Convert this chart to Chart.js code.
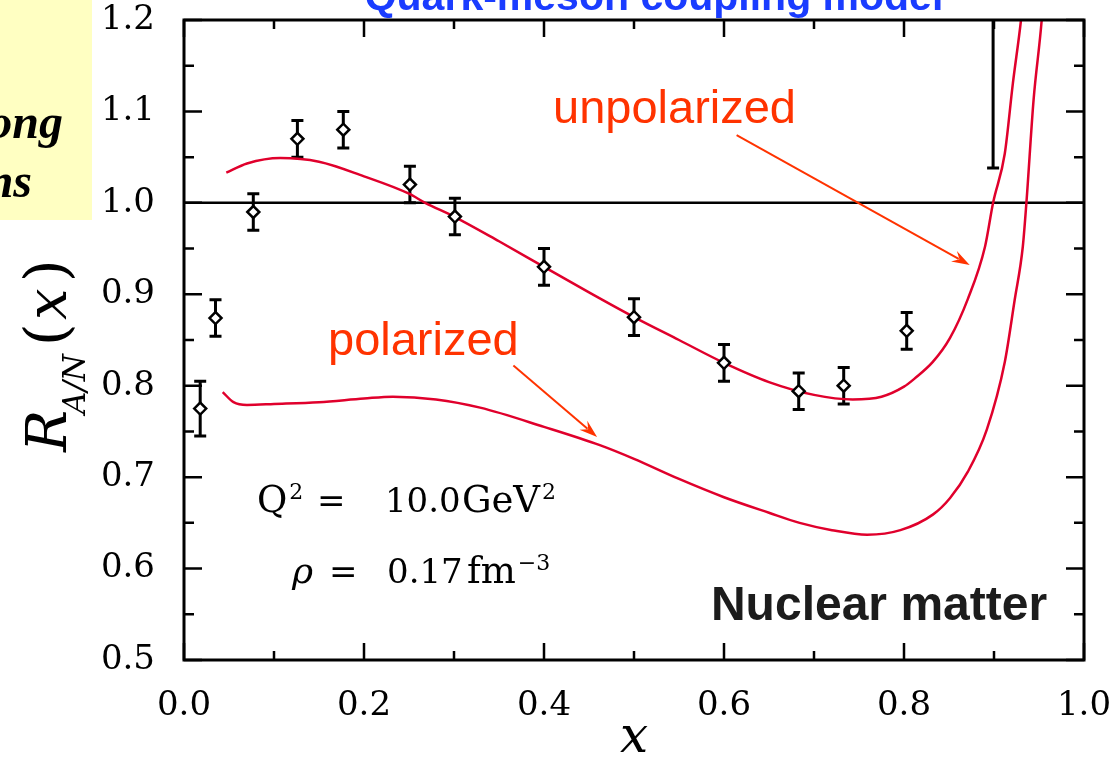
<!DOCTYPE html>
<html>
<head>
<meta charset="utf-8">
<script src="https://cdn.jsdelivr.net/npm/chart.js@4.4.1/dist/chart.umd.min.js"></script>
<style>
html, body { margin: 0; padding: 0; background: #fff; }
#wrap { width: 1111px; height: 761px; }
</style>
</head>
<body>
<div id="wrap"><canvas id="ratioChart" width="1111" height="761"></canvas></div>
<script>
// measured ratio with error bars
const dataX = [0.018, 0.035, 0.077, 0.126, 0.177, 0.251, 0.301, 0.4, 0.5, 0.6, 0.683, 0.733, 0.803, 0.899];
const dataY = [0.775, 0.874, 0.99, 1.07, 1.08, 1.02, 0.985, 0.93, 0.875, 0.825, 0.794, 0.80, 0.86, 1.30];
const dataErr = [0.03, 0.02, 0.02, 0.02, 0.02, 0.02, 0.02, 0.02, 0.02, 0.02, 0.02, 0.02, 0.02, 0.262];

// model curves
const unpolX = [0.047, 0.07, 0.107, 0.15, 0.2, 0.25, 0.268, 0.3, 0.35, 0.4, 0.45, 0.5, 0.55, 0.6, 0.65, 0.7, 0.743, 0.775, 0.8, 0.812, 0.832, 0.851, 0.871, 0.89, 0.899, 0.912, 0.921, 0.93, 0.94];
const unpolY = [1.033, 1.043, 1.049, 1.045, 1.029, 1.010, 1.0, 0.985, 0.958, 0.93, 0.902, 0.875, 0.85, 0.825, 0.804, 0.79, 0.785, 0.788, 0.799, 0.808, 0.826, 0.852, 0.895, 0.952, 1.0, 1.054, 1.131, 1.2, 1.3];
const polX = [0.043, 0.055, 0.07, 0.1, 0.15, 0.2, 0.232, 0.28, 0.329, 0.4, 0.462, 0.5, 0.55, 0.6, 0.65, 0.684, 0.72, 0.759, 0.796, 0.832, 0.851, 0.871, 0.892, 0.912, 0.923, 0.932, 0.936, 0.944, 0.953, 0.96];
const polY = [0.793, 0.782, 0.779, 0.780, 0.782, 0.786, 0.788, 0.785, 0.776, 0.755, 0.735, 0.72, 0.698, 0.678, 0.661, 0.65, 0.642, 0.637, 0.642, 0.659, 0.677, 0.706, 0.752, 0.826, 0.894, 0.952, 1.0, 1.113, 1.2, 1.3];

// R = 1 reference line
const refX = [0, 1];
const refY = [1, 1];

const xTicks = [0, 0.2, 0.4, 0.6, 0.8, 1.0];
const xTickLabels = ['0.0', '0.2', '0.4', '0.6', '0.8', '1.0'];
const yTicks = [0.5, 0.6, 0.7, 0.8, 0.9, 1.0, 1.1, 1.2];
const yTickLabels = ['0.5', '0.6', '0.7', '0.8', '0.9', '1.0', '1.1', '1.2'];

const toXY = (xs, ys) => xs.map((x, i) => ({ x: x, y: ys[i] }));

const RED = '#e0002c';
const ORANGE = '#ff3300';
const SERIF = '"DejaVu Serif", serif';

// pieces of text: fixed offset (at) or right after the previous piece (gap)
function drawParts(ctx, x, y, parts) {
	let end = x;
	parts.forEach(p => {
		ctx.font = p.font;
		const px = p.at !== undefined ? x + p.at : end + (p.gap || 0);
		ctx.fillText(p.t, px, y - (p.up || 0));
		end = px + ctx.measureText(p.t).width;
	});
}

function arrow(ctx, x1, y1, x2, y2) {
	const a = Math.atan2(y2 - y1, x2 - x1);
	const c = Math.cos(a), s = Math.sin(a);
	const len = 18, half = 6;
	ctx.beginPath();
	ctx.moveTo(x1, y1);
	ctx.lineTo(x2 - len * 0.7 * c, y2 - len * 0.7 * s);
	ctx.stroke();
	ctx.beginPath();
	ctx.moveTo(x2, y2);
	ctx.lineTo(x2 - len * c + half * s, y2 - len * s - half * c);
	ctx.lineTo(x2 - len * 0.65 * c, y2 - len * 0.65 * s);
	ctx.lineTo(x2 - len * c - half * s, y2 - len * s + half * c);
	ctx.closePath();
	ctx.fill();
}

const errorBars = {
	id: 'errorBars',
	beforeDatasetsDraw(chart) {
		const { ctx, chartArea: a, scales: { x, y } } = chart;
		ctx.save();
		ctx.beginPath();
		ctx.rect(a.left, a.top, a.right - a.left, a.bottom - a.top);
		ctx.clip();
		ctx.strokeStyle = '#000';
		ctx.lineWidth = 3;
		for (let i = 0; i < dataX.length; i++) {
			const px = x.getPixelForValue(dataX[i]);
			const lo = y.getPixelForValue(dataY[i] - dataErr[i]);
			const hi = y.getPixelForValue(dataY[i] + dataErr[i]);
			ctx.beginPath();
			ctx.moveTo(px, lo); ctx.lineTo(px, hi);
			ctx.moveTo(px - 6, lo); ctx.lineTo(px + 6, lo);
			ctx.moveTo(px - 6, hi); ctx.lineTo(px + 6, hi);
			ctx.stroke();
		}
		ctx.restore();
	}
};

const frame = {
	id: 'frame',
	afterDatasetsDraw(chart) {
		const { ctx, chartArea: a, scales: { x, y } } = chart;
		ctx.save();
		ctx.strokeStyle = '#000';
		ctx.lineWidth = 2.5;
		ctx.beginPath();
		// ticks pointing inward on all four sides
		for (let k = 0; k <= 10; k++) {
			const px = x.getPixelForValue(k / 10);
			const len = k % 2 === 0 ? 17 : 9;
			ctx.moveTo(px, a.bottom); ctx.lineTo(px, a.bottom - len);
			ctx.moveTo(px, a.top); ctx.lineTo(px, a.top + len);
		}
		for (let k = 0; k <= 14; k++) {
			const py = y.getPixelForValue(0.5 + k * 0.05);
			const len = k % 2 === 0 ? 18 : 10;
			ctx.moveTo(a.left, py); ctx.lineTo(a.left + len, py);
			ctx.moveTo(a.right, py); ctx.lineTo(a.right - len, py);
		}
		ctx.stroke();
		ctx.lineWidth = 3;
		ctx.strokeRect(a.left, a.top, a.right - a.left, a.bottom - a.top);
		ctx.restore();
	}
};

const labels = {
	id: 'labels',
	afterDraw(chart) {
		const { ctx, chartArea, scales: { x, y } } = chart;
		const X = v => x.getPixelForValue(v);
		const Y = v => y.getPixelForValue(v);
		ctx.save();

		// yellow side box, cut at the edge
		ctx.fillStyle = '#ffffc2';
		ctx.fillRect(0, 0, 92, 220);
		ctx.fillStyle = '#000';
		ctx.textAlign = 'right';
		ctx.textBaseline = 'alphabetic';
		ctx.font = 'italic bold 48px "Liberation Serif", serif';
		ctx.fillText('ong', 63, 138);
		ctx.fillText('ns', 32, 197);

		// title, cut at the top
		ctx.textAlign = 'center';
		ctx.fillStyle = '#1a3cff';
		ctx.font = 'bold 41px "Liberation Sans", Arial, sans-serif';
		ctx.fillText('Quark-meson coupling model', 654, 10);

		// axis titles
		ctx.fillStyle = '#000';
		ctx.font = 'italic 50px ' + SERIF;
		ctx.fillText('x', (chartArea.left + chartArea.right) / 2, 752);

		ctx.save();
		ctx.translate(66, 452);
		ctx.rotate(-Math.PI / 2);
		ctx.textAlign = 'left';
		drawParts(ctx, 0, 0, [
			{ t: 'R', font: 'italic 56px ' + SERIF, at: 0 },
			{ t: 'A/N', font: 'italic 31px ' + SERIF, up: -19, at: 38 },
			{ t: '(', font: '58px ' + SERIF, at: 106 },
			{ t: 'x', font: 'italic 56px ' + SERIF, at: 132 },
			{ t: ')', font: '58px ' + SERIF, at: 170 }
		]);
		ctx.restore();

		// curve labels and arrows
		ctx.textAlign = 'left';
		ctx.fillStyle = ORANGE;
		ctx.strokeStyle = ORANGE;
		ctx.lineWidth = 2;
		ctx.font = '47px "Liberation Sans", Arial, sans-serif';
		ctx.fillText('unpolarized', X(0.41), Y(1.087));
		ctx.fillText('polarized', X(0.16), Y(0.834));
		arrow(ctx, X(0.614), Y(1.074), X(0.873), Y(0.932));
		arrow(ctx, X(0.366), Y(0.822), X(0.459), Y(0.744));

		// kinematics
		ctx.fillStyle = '#000';
		const big = '34px ' + SERIF;
		const wide = '37px ' + SERIF;
		const sup = '22px ' + SERIF;
		drawParts(ctx, X(0.081), Y(0.662), [
			{ t: 'Q', font: wide, at: 0 },
			{ t: '2', font: sup, up: 13, gap: 2 },
			{ t: '=', font: big, at: 60 },
			{ t: '10.0', font: big, at: 128 },
			{ t: 'GeV', font: wide, at: 205 },
			{ t: '2', font: sup, up: 13, gap: 2 }
		]);
		drawParts(ctx, X(0.12), Y(0.584), [
			{ t: 'ρ', font: 'italic 36px ' + SERIF, at: 0 },
			{ t: '=', font: big, at: 37 },
			{ t: '0.17', font: big, at: 95 },
			{ t: 'fm', font: wide, at: 175 },
			{ t: '−3', font: sup, up: 13, gap: 2 }
		]);

		// bold label
		ctx.textAlign = 'right';
		ctx.fillStyle = '#1c1c1c';
		ctx.font = 'bold 48px "Liberation Sans", Arial, sans-serif';
		ctx.fillText('Nuclear matter', X(0.959), Y(0.544));

		ctx.restore();
	}
};

new Chart(document.querySelector('#ratioChart'), {
	type: 'scatter',
	data: {
		datasets: [{
			label: 'data',
			data: toXY(dataX, dataY),
			pointStyle: 'rectRot',
			pointRadius: 6,
			pointBackgroundColor: '#fff',
			pointBorderColor: '#000',
			pointBorderWidth: 2.5,
			order: 0
		}, {
			label: 'unpolarized',
			data: toXY(unpolX, unpolY),
			showLine: true,
			pointRadius: 0,
			borderColor: RED,
			borderWidth: 2.5,
			cubicInterpolationMode: 'monotone',
			order: 1
		}, {
			label: 'polarized',
			data: toXY(polX, polY),
			showLine: true,
			pointRadius: 0,
			borderColor: RED,
			borderWidth: 2.5,
			cubicInterpolationMode: 'monotone',
			order: 1
		}, {
			label: 'one',
			data: toXY(refX, refY),
			showLine: true,
			pointRadius: 0,
			borderColor: '#000',
			borderWidth: 2.5,
			order: 2
		}]
	},
	options: {
		responsive: false,
		animation: false,
		layout: { padding: 0 },
		plugins: {
			legend: { display: false },
			tooltip: { enabled: false }
		},
		scales: {
			x: {
				type: 'linear',
				min: 0,
				max: 1,
				grid: { display: false, drawTicks: false },
				border: { display: false },
				afterFit: s => {
					s.height = 101;
					s.paddingLeft = 0;
					s.paddingRight = 27;
				},
				afterBuildTicks: s => { s.ticks = xTicks.map(v => ({ value: v })); },
				ticks: {
					padding: 26,
					color: '#000',
					font: { family: 'DejaVu Serif', size: 34 },
					maxRotation: 0,
					callback: (v, i) => xTickLabels[i]
				}
			},
			y: {
				type: 'linear',
				min: 0.5,
				max: 1.2,
				grid: { display: false, drawTicks: false },
				border: { display: false },
				afterFit: s => {
					s.width = 184;
					s.paddingTop = 20;
					s.paddingBottom = 0;
				},
				afterBuildTicks: s => { s.ticks = yTicks.map(v => ({ value: v })); },
				ticks: {
					padding: 29,
					color: '#000',
					font: { family: 'DejaVu Serif', size: 34 },
					callback: (v, i) => yTickLabels[i]
				}
			}
		}
	},
	plugins: [errorBars, frame, labels]
});
</script>
</body>
</html>
